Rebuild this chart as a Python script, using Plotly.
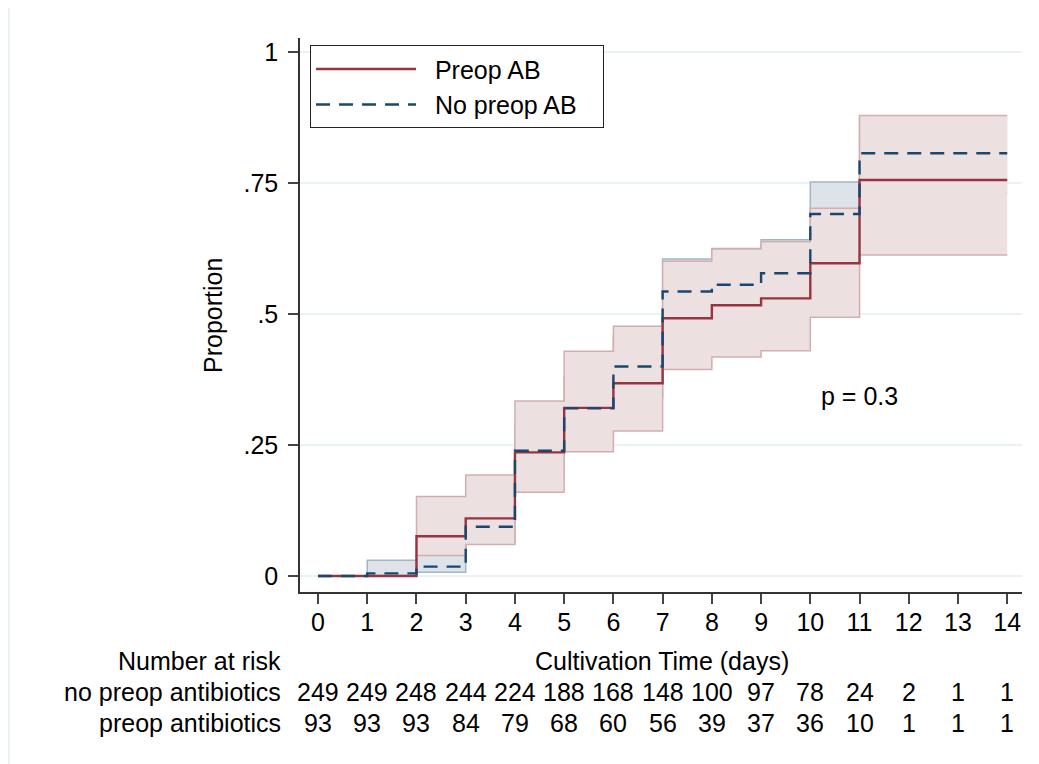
import plotly.graph_objects as go

# ---- data ----
times = [0, 1, 2, 3, 4, 5, 6, 7, 8, 9, 10, 11, 14]
preop_est = [0, 0, 0.076, 0.110, 0.236, 0.321, 0.368, 0.492, 0.517, 0.530, 0.597, 0.756, 0.756]
preop_lo = [0, 0, 0.039, 0.060, 0.160, 0.237, 0.277, 0.394, 0.418, 0.430, 0.494, 0.613, 0.613]
preop_hi = [0, 0, 0.152, 0.193, 0.334, 0.429, 0.477, 0.601, 0.624, 0.638, 0.702, 0.879, 0.879]
nopreop_est = [0, 0.005, 0.018, 0.094, 0.239, 0.320, 0.400, 0.543, 0.556, 0.578, 0.691, 0.807, 0.807]
nopreop_lo = [0, 0.001, 0.007, 0.065, 0.190, 0.270, 0.340, 0.480, 0.490, 0.510, 0.630, 0.732, 0.732]
nopreop_hi = [0, 0.030, 0.040, 0.130, 0.290, 0.380, 0.460, 0.605, 0.625, 0.642, 0.752, 0.874, 0.874]

risk_days = list(range(15))
risk_nopreop = [249, 249, 248, 244, 224, 188, 168, 148, 100, 97, 78, 24, 2, 1, 1]
risk_preop = [93, 93, 93, 84, 79, 68, 60, 56, 39, 37, 36, 10, 1, 1, 1]

ytick_vals = [0, 0.25, 0.5, 0.75, 1]
ytick_text = ["0", ".25", ".5", ".75", "1"]

FONT = "Liberation Sans, Arial, Helvetica, sans-serif"
FS = 25
NAVY = "#1a476f"
MAROON = "#963540"

fig = go.Figure()

# confidence bands (no preop first, preop on top)
fig.add_trace(go.Scatter(x=times, y=nopreop_lo, mode="lines", line_shape="hv",
                         line=dict(color="#a3b5c5", width=1.5), showlegend=False, hoverinfo="skip"))
fig.add_trace(go.Scatter(x=times, y=nopreop_hi, mode="lines", line_shape="hv", fill="tonexty",
                         fillcolor="#dde3e9", line=dict(color="#a3b5c5", width=1.5),
                         showlegend=False, hoverinfo="skip"))
fig.add_trace(go.Scatter(x=times, y=preop_lo, mode="lines", line_shape="hv",
                         line=dict(color="#d3aeb1", width=1.5), showlegend=False, hoverinfo="skip"))
fig.add_trace(go.Scatter(x=times, y=preop_hi, mode="lines", line_shape="hv", fill="tonexty",
                         fillcolor="#ede0e1", line=dict(color="#d3aeb1", width=1.5),
                         showlegend=False, hoverinfo="skip"))

# estimates
fig.add_trace(go.Scatter(x=times, y=preop_est, mode="lines", line_shape="hv",
                         line=dict(color=MAROON, width=2.4),
                         name="\u00a0\u00a0Preop AB\u00a0\u00a0\u00a0\u00a0"))
fig.add_trace(go.Scatter(x=times, y=nopreop_est, mode="lines", line_shape="hv",
                         line=dict(color=NAVY, width=2.4, dash="14px,9px"),
                         name="\u00a0\u00a0No preop AB\u00a0\u00a0\u00a0"))

tf = dict(size=FS, family=FONT, color="black")
annotations = []
# p value
annotations.append(dict(x=11, y=0.343, xref="x", yref="y", text="p = 0.3", showarrow=False,
                        xanchor="center", yanchor="middle", font=tf))
# axis titles
annotations.append(dict(x=-0.1205, y=0.5, xref="paper", yref="paper", text="Proportion",
                        textangle=-90, showarrow=False, xanchor="center", yanchor="middle", font=tf))
row_y = [-0.1245, -0.1805, -0.2365]
annotations.append(dict(x=0.5014, y=row_y[0], xref="paper", yref="paper",
                        text="Cultivation Time (days)", showarrow=False,
                        xanchor="center", yanchor="middle", font=tf))
# number at risk table
for txt, yy in zip(["Number at risk", "no preop antibiotics", "preop antibiotics"], row_y):
    annotations.append(dict(x=-0.0235, y=yy, xref="paper", yref="paper", text=txt,
                            xanchor="right", yanchor="middle", showarrow=False, font=tf))
for d, n1, n2 in zip(risk_days, risk_nopreop, risk_preop):
    annotations.append(dict(x=d, y=row_y[1], xref="x", yref="paper", text=str(n1), showarrow=False,
                            xanchor="center", yanchor="middle", font=tf))
    annotations.append(dict(x=d, y=row_y[2], xref="x", yref="paper", text=str(n2), showarrow=False,
                            xanchor="center", yanchor="middle", font=tf))

fig.update_layout(
    width=1031, height=756,
    margin=dict(l=292, r=17, t=30, b=172),
    paper_bgcolor="white", plot_bgcolor="white",
    font=dict(family=FONT, size=FS, color="black"),
    xaxis=dict(range=[-0.366, 14.3], tickvals=risk_days, ticks="outside", ticklen=10,
               tickwidth=1.5, tickcolor="#444", showline=True, linecolor="#333", linewidth=1.5,
               showgrid=False, zeroline=False, tickfont=tf, ticklabelstandoff=-3),
    yaxis=dict(range=[-0.0305, 1.027], tickvals=ytick_vals, ticktext=ytick_text, ticks="outside",
               ticklen=10, tickwidth=1.5, tickcolor="#444", showline=True, linecolor="#333",
               linewidth=1.5, showgrid=True, gridcolor="#eaf2f3", gridwidth=1.5, zeroline=False,
               tickfont=tf, ticklabelstandoff=5),
    legend=dict(x=0.0139, y=0.987, xanchor="left", yanchor="top", bgcolor="white",
                bordercolor="#222", borderwidth=1, font=tf, itemwidth=100,
                traceorder="normal"),
    annotations=annotations,
    shapes=[dict(type="line", xref="paper", yref="paper",
                 x0=(9 - 300) / 722, x1=(9 - 300) / 722, y0=(592 - 764) / 554, y1=(592 - 8) / 554,
                 line=dict(color="#eaf2f3", width=2), layer="below")],
)

fig.write_html("out.html")
